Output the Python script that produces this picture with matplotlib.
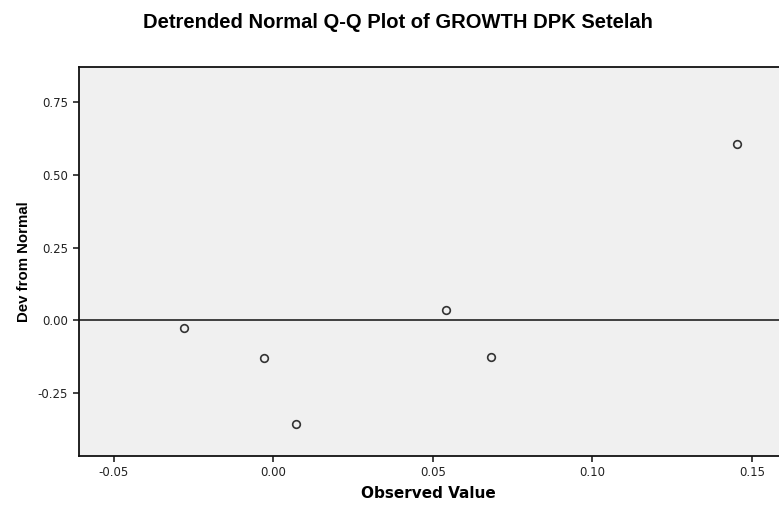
import matplotlib.pyplot as plt

plt.rcParams['font.family'] = ['Liberation Sans', 'DejaVu Sans']

# observed values vs deviation from normal
observed = [-0.0280, -0.0030, 0.0071, 0.0542, 0.0681, 0.1452]
dev_normal = [-0.026, -0.129, -0.355, 0.036, -0.126, 0.605]

xticks = [-0.05, 0.00, 0.05, 0.10, 0.15]
yticks = [-0.25, 0.00, 0.25, 0.50, 0.75]

fig = plt.figure(figsize=(7.79, 5.05), dpi=100)
ax = fig.add_axes([0.1008, 0.097, 0.8992, 0.7703])
ax.set_facecolor('#f0f0f0')

ax.axhline(0, color='#222222', linewidth=1.2, zorder=1)
ax.plot(observed, dev_normal, linestyle='none', marker='o', markersize=5.5,
        markerfacecolor='none', markeredgecolor='#333333', markeredgewidth=1.2, zorder=2)

ax.set_xlim(-0.0611, 0.1585)
ax.set_ylim(-0.466, 0.870)
ax.set_xticks(xticks)
ax.set_xticklabels([f"{v:.2f}" for v in xticks], family='DejaVu Sans')
ax.set_yticks(yticks)
ax.set_yticklabels([f"{v:.2f}" for v in yticks], family='DejaVu Sans')
ax.tick_params(direction='out', length=4, width=1.2, labelsize=8.5, colors='#222222')

for side in ['left', 'bottom', 'top']:
    ax.spines[side].set_linewidth(1.3)
    ax.spines[side].set_color('#111111')
ax.spines['right'].set_visible(False)

ax.set_xlabel("Observed Value", fontsize=11, fontweight='bold',
              family='DejaVu Sans', labelpad=5)
ax.set_ylabel("Dev from Normal", fontsize=10.8, fontweight='bold', labelpad=5)
fig.suptitle("Detrended Normal Q-Q Plot of GROWTH DPK Setelah", fontsize=14.5,
             fontweight='bold', x=0.511, y=0.956, va='center')

fig.savefig("out.png", dpi=100)
